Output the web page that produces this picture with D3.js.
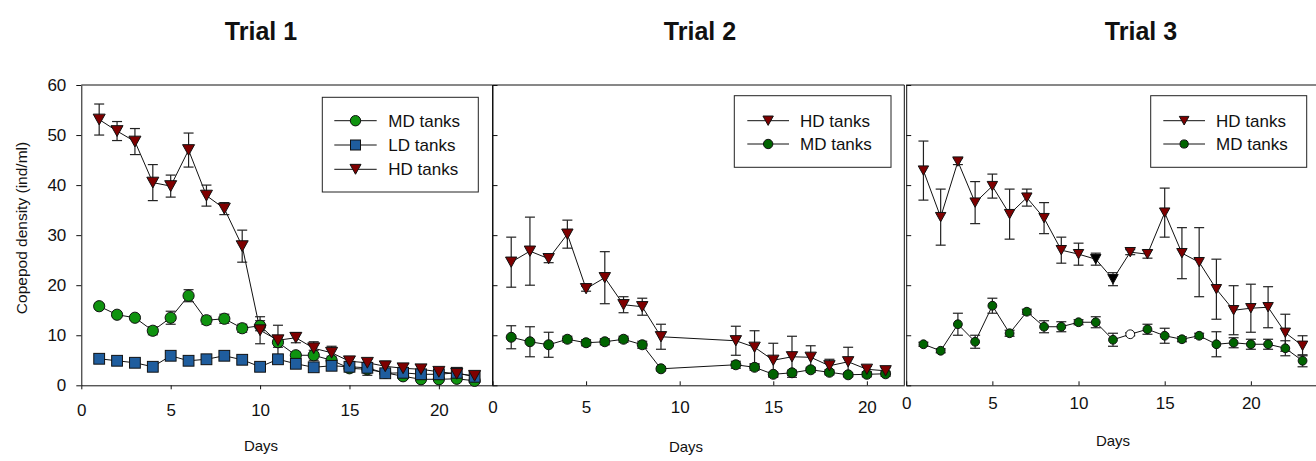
<!DOCTYPE html>
<html>
<head>
<meta charset="utf-8">
<script src="https://cdn.jsdelivr.net/npm/d3@7"></script>
<style>
  body { margin: 0; background: #fff; }
  svg { display: block; font-family: "Liberation Sans", Arial, sans-serif; }
</style>
</head>
<body>
<svg id="chart" width="1316" height="461"></svg>
<script>
// ---- Trial 1 ----
const t1Days  = d3.range(1, 23);
const t1MD    = [15.8, 14.1, 13.5, 10.9, 13.5, 17.9, 13.0, 13.3, 11.4, 11.9, 8.6, 6.0, 6.0, 5.0, 3.4, 3.2, 2.5, 1.8, 1.2, 1.2, 1.3, 0.9];
const t1MDerr = [0.5, 0.5, 0.5, 0.8, 1.3, 1.2, 0.8, 0.9, 0.8, 1.0, 1.0, 0.6, 1.0, 0.8, 0.6, 1.2, 0.5, 0.5, 0.4, 0.4, 0.4, 0.4];
const t1LD    = [5.3, 4.9, 4.5, 3.7, 5.9, 4.9, 5.2, 5.9, 5.1, 3.7, 5.2, 4.3, 3.6, 3.9, 3.7, 3.5, 2.4, 2.5, 2.2, 2.2, 2.5, 1.7];
const t1LDerr = [0.5, 0.5, 0.5, 0.6, 0.6, 0.5, 0.5, 0.5, 0.5, 0.5, 0.6, 0.5, 0.5, 0.5, 0.5, 0.5, 0.5, 0.5, 0.5, 0.5, 0.5, 0.5];
const t1HD    = [53.1, 50.8, 48.7, 40.5, 39.8, 47.0, 37.9, 35.3, 27.8, 11.0, 9.0, 9.5, 7.4, 6.5, 4.8, 4.5, 3.8, 3.4, 3.2, 2.7, 2.3, 1.9];
const t1HDerr = [3.1, 1.9, 2.6, 3.6, 2.2, 3.4, 2.1, 1.2, 3.2, 2.7, 3.0, 1.0, 1.3, 1.3, 0.8, 0.7, 1.0, 0.8, 0.6, 0.5, 0.5, 0.5];

// ---- Trial 2 (no sampling on days 10-12) ----
const t2Days  = [1, 2, 3, 4, 5, 6, 7, 8, 9, 13, 14, 15, 16, 17, 18, 19, 20, 21];
const t2HD    = [24.6, 26.8, 25.3, 30.2, 19.3, 21.5, 16.1, 15.7, 9.7, 8.9, 7.6, 5.0, 5.7, 5.6, 3.9, 4.7, 3.2, 2.9];
const t2HDerr = [5.0, 6.8, 0.8, 2.8, 0.5, 5.2, 1.6, 1.7, 2.5, 2.9, 3.3, 3.4, 4.1, 2.3, 1.3, 2.9, 0.6, 0.6];
const t2MD    = [9.6, 8.7, 8.1, 9.2, 8.5, 8.7, 9.2, 8.1, 3.3, 4.1, 3.6, 2.2, 2.5, 3.1, 2.6, 2.1, 2.2, 2.3];
const t2MDerr = [2.3, 3.0, 2.5, 0.6, 0.6, 0.6, 0.6, 0.7, 0.4, 0.7, 0.6, 0.4, 0.5, 0.5, 0.5, 0.4, 0.5, 0.5];

// ---- Trial 3 ----
const t3Days  = d3.range(1, 24);
const t3HD    = [42.9, 33.6, 44.7, 36.5, 39.8, 34.2, 37.5, 33.4, 27.0, 26.2, 25.2, 21.2, 26.6, 26.2, 34.5, 26.4, 24.6, 19.2, 15.0, 15.4, 15.6, 10.5, 7.9];
const t3HDerr = [5.9, 5.6, 0.6, 4.2, 2.4, 5.0, 1.7, 3.1, 2.6, 2.2, 1.2, 1.3, 0.5, 0.8, 4.9, 5.1, 6.9, 6.0, 4.9, 4.8, 4.1, 3.7, 2.0];
const t3MD    = [8.2, 6.9, 12.2, 8.7, 15.9, 10.4, 14.7, 11.7, 11.7, 12.6, 12.6, 9.1, 10.2, 11.2, 9.9, 9.2, 9.9, 8.2, 8.5, 8.2, 8.2, 7.4, 4.9];
const t3MDerr = [0.4, 0.4, 2.2, 1.3, 1.5, 0.6, 0.5, 1.2, 1.0, 0.5, 1.1, 1.3, 0.3, 1.0, 1.5, 0.5, 0.5, 2.5, 1.0, 1.0, 1.0, 1.5, 1.2];
const t3HDblackDays = [11, 12];   // HD symbols drawn in black on these days
const t3MDopenDays  = [13];       // MD symbol left unfilled on this day

const yTicks = [0, 10, 20, 30, 40, 50, 60];
const xTicks = [0, 5, 10, 15, 20];
const titles = ["Trial 1", "Trial 2", "Trial 3"];

const COL = { hd: "#7f0000", md1: "#0f930f", md: "#006400", ld: "#1f5d9e" };

const svg = d3.select("#chart");
const plotTop = 85, plotBottom = 385.3;
const y = d3.scaleLinear().domain([0, 60]).range([plotBottom, plotTop]);

function symbol(g, kind, cx, cy, size, fill) {
  if (kind === "circle") {
    g.append("circle").attr("cx", cx).attr("cy", cy).attr("r", size)
      .attr("fill", fill).attr("stroke", "#111").attr("stroke-width", 1);
  } else if (kind === "square") {
    g.append("rect").attr("x", cx - size).attr("y", cy - size)
      .attr("width", size * 2).attr("height", size * 2)
      .attr("fill", fill).attr("stroke", "#111").attr("stroke-width", 1);
  } else {
    const w = size, h = size * 0.9;
    g.append("path")
      .attr("d", `M${cx - w},${cy - h}L${cx + w},${cy - h}L${cx},${cy + h}Z`)
      .attr("fill", fill).attr("stroke", "#111").attr("stroke-width", 1);
  }
}

function panel(opt) {
  const x = d3.scaleLinear().domain(opt.xDomain).range([opt.left, opt.right]);
  const g = svg.append("g");

  // frame (top and right edges)
  g.append("line").attr("x1", opt.left).attr("x2", opt.frameRight)
    .attr("y1", plotTop).attr("y2", plotTop).attr("stroke", "#111");
  if (opt.drawRight) {
    g.append("line").attr("x1", opt.right).attr("x2", opt.right)
      .attr("y1", plotTop).attr("y2", plotBottom).attr("stroke", "#111");
  }

  // axes
  const xAxis = d3.axisBottom(x).tickValues(xTicks).tickSizeOuter(0)
    .tickSizeInner(opt.first ? 4 : -4).tickPadding(opt.first ? 15 : 18);
  const gx = g.append("g").attr("transform", `translate(0,${plotBottom})`).call(xAxis);
  gx.selectAll("text").attr("font-size", 17).attr("fill", "#111").attr("dy", opt.xLabelDy);
  gx.select(".domain").attr("stroke", "#111");
  gx.selectAll(".tick line").attr("stroke", "#111");

  const yAxis = d3.axisLeft(y).tickValues(yTicks).tickSizeOuter(0)
    .tickSizeInner(opt.first ? 5 : -5).tickPadding(10);
  if (!opt.first) yAxis.tickFormat("");
  const gy = g.append("g").attr("transform", `translate(${opt.left},0)`).call(yAxis);
  gy.selectAll("text").attr("font-size", 17).attr("fill", "#111");
  gy.select(".domain").attr("stroke", "#111");
  gy.selectAll(".tick line").attr("stroke", "#111");

  // series: connecting lines and error bars first, symbols on top
  opt.series.forEach(s => {
    const pts = s.days.map((d, i) => ({ d, v: s.values[i], e: s.errs[i] }));
    const line = d3.line().x(p => x(p.d)).y(p => y(p.v));
    g.append("path").datum(pts).attr("d", line)
      .attr("fill", "none").attr("stroke", "#111").attr("stroke-width", 1);
    const eg = g.append("g").attr("stroke", "#222").attr("stroke-width", 1.2);
    pts.forEach(p => {
      const cx = x(p.d), y1 = y(p.v + p.e), y2 = y(p.v - p.e);
      eg.append("line").attr("x1", cx).attr("x2", cx).attr("y1", y1).attr("y2", y2);
      eg.append("line").attr("x1", cx - 5).attr("x2", cx + 5).attr("y1", y1).attr("y2", y1);
      eg.append("line").attr("x1", cx - 5).attr("x2", cx + 5).attr("y1", y2).attr("y2", y2);
    });
  });
  opt.series.forEach(s => {
    const sg = g.append("g");
    s.days.forEach((d, i) => {
      const fill = s.fillFor ? s.fillFor(d) : s.color;
      symbol(sg, s.kind, x(d), y(s.values[i]), s.size, fill);
    });
  });

  // legend
  const L = opt.legend;
  const lg = g.append("g");
  lg.append("rect").attr("x", L.x).attr("y", L.y).attr("width", L.w).attr("height", L.h)
    .attr("fill", "#fff").attr("stroke", "#222").attr("stroke-width", 1);
  L.items.forEach((it, i) => {
    const cy = L.firstY + i * L.step;
    lg.append("line").attr("x1", L.lineX1).attr("x2", L.lineX2)
      .attr("y1", cy).attr("y2", cy).attr("stroke", "#111");
    symbol(lg, it.kind, (L.lineX1 + L.lineX2) / 2, cy, it.size, it.color);
    lg.append("text").attr("x", L.textX).attr("y", cy + 6)
      .attr("font-size", 17).attr("fill", "#111").text(it.label);
  });

  // titles
  svg.append("text").attr("x", opt.titleX).attr("y", 40).attr("text-anchor", "middle")
    .attr("font-size", 25).attr("font-weight", "bold").attr("fill", "#111").text(opt.title);
  svg.append("text").attr("x", opt.daysX).attr("y", opt.daysY).attr("text-anchor", "middle")
    .attr("font-size", 15).attr("fill", "#111").text("Days");
}

panel({
  first: true, title: titles[0], titleX: 261, daysX: 261, daysY: 451, xLabelDy: "0.71em",
  left: 81.3, right: 492.5, frameRight: 492.5, drawRight: true, xDomain: [0, 23],
  series: [
    { days: t1Days, values: t1MD, errs: t1MDerr, kind: "circle", size: 5.6, color: COL.md1 },
    { days: t1Days, values: t1LD, errs: t1LDerr, kind: "square", size: 5.4, color: COL.ld },
    { days: t1Days, values: t1HD, errs: t1HDerr, kind: "tri", size: 6, color: COL.hd }
  ],
  legend: { x: 322.3, y: 97.3, w: 156, h: 94.7, firstY: 120.7, step: 24.3, lineX1: 334.3, lineX2: 376.7, textX: 388.3,
    items: [
      { label: "MD tanks", kind: "circle", size: 5.2, color: COL.md1 },
      { label: "LD tanks", kind: "square", size: 5, color: COL.ld },
      { label: "HD tanks", kind: "tri", size: 5.5, color: COL.hd }
    ] }
});

panel({
  first: false, title: titles[1], titleX: 700, daysX: 686, daysY: 452, xLabelDy: "0.55em",
  left: 492.5, right: 904.3, frameRight: 904.3, drawRight: true, xDomain: [0, 22],
  series: [
    { days: t2Days, values: t2MD, errs: t2MDerr, kind: "circle", size: 5, color: COL.md },
    { days: t2Days, values: t2HD, errs: t2HDerr, kind: "tri", size: 5.7, color: COL.hd }
  ],
  legend: { x: 734.3, y: 95.7, w: 156.7, h: 71.6, firstY: 120.7, step: 23.3, lineX1: 747.3, lineX2: 789, textX: 800,
    items: [
      { label: "HD tanks", kind: "tri", size: 5.2, color: COL.hd },
      { label: "MD tanks", kind: "circle", size: 4.7, color: COL.md }
    ] }
});

panel({
  first: false, title: titles[2], titleX: 1141, daysX: 1113, daysY: 446, xLabelDy: "0.35em",
  left: 906.2, right: 1316, frameRight: 1316, drawRight: false, xDomain: [0, 23.78],
  series: [
    { days: t3Days, values: t3MD, errs: t3MDerr, kind: "circle", size: 4.4, color: COL.md,
      fillFor: d => t3MDopenDays.includes(d) ? "#fff" : COL.md },
    { days: t3Days, values: t3HD, errs: t3HDerr, kind: "tri", size: 5.2, color: COL.hd,
      fillFor: d => t3HDblackDays.includes(d) ? "#000" : COL.hd }
  ],
  legend: { x: 1150.7, y: 95.7, w: 156, h: 71.6, firstY: 120.7, step: 23.3, lineX1: 1163.3, lineX2: 1205, textX: 1216,
    items: [
      { label: "HD tanks", kind: "tri", size: 4.8, color: COL.hd },
      { label: "MD tanks", kind: "circle", size: 4.1, color: COL.md }
    ] }
});

// shared y-axis title
svg.append("text")
  .attr("transform", "translate(27,228) rotate(-90)")
  .attr("text-anchor", "middle").attr("font-size", 15.5).attr("fill", "#111")
  .text("Copepod density (ind/ml)");
</script>
</body>
</html>
